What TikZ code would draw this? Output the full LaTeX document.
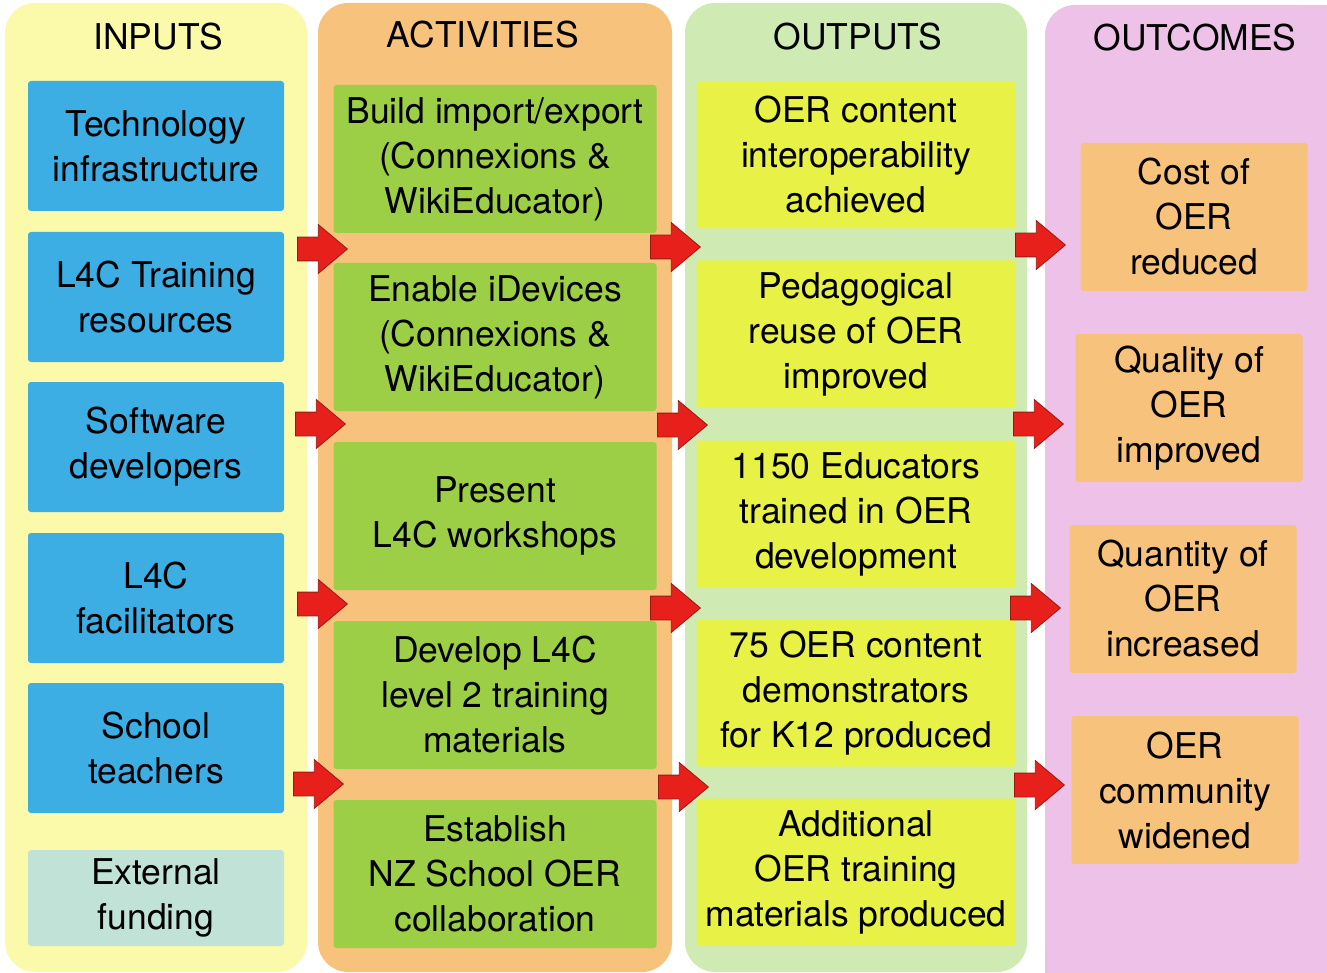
\documentclass[tikz,border=0pt]{standalone}
\usepackage{fontspec}
\setmainfont{TeX Gyre Heros}
\usepackage{tikz}
\usetikzlibrary{shapes.arrows}

\definecolor{inyellow}{RGB}{251,250,171}
\definecolor{actorange}{RGB}{247,194,124}
\definecolor{outgreen}{RGB}{207,235,179}
\definecolor{outcpink}{RGB}{238,193,232}
\definecolor{boxblue}{RGB}{61,174,228}
\definecolor{boxteal}{RGB}{193,227,215}
\definecolor{boxgreen}{RGB}{156,207,69}
\definecolor{boxlime}{RGB}{232,241,69}
\definecolor{arrowred}{RGB}{232,32,28}
\definecolor{arrowedge}{RGB}{150,26,20}

\tikzset{
  colhead/.style={font=\fontsize{35.5}{45}\selectfont, text=black},
  box/.style={rounded corners=3pt, align=center, inner sep=0pt,
    font=\fontsize{35.5}{45}\selectfont, text=black},
  inbox/.style={box, fill=boxblue, minimum width=256pt, minimum height=130pt},
  actbox/.style={box, fill=boxgreen, minimum width=323pt, minimum height=148pt},
  outbox/.style={box, fill=boxlime, minimum width=319pt, minimum height=147pt},
  resbox/.style={box, fill=actorange, minimum width=227pt, minimum height=148pt},
  redarrow/.style={single arrow, fill=arrowred, draw=arrowedge, line width=0.8pt,
    inner xsep=0pt, inner ysep=11.5pt, minimum height=50pt,
    single arrow head extend=12.5pt, single arrow tip angle=80, anchor=tail}
}

\begin{document}
\begin{tikzpicture}[x=1pt,y=-1pt]
    \useasboundingbox (0,0) rectangle (1327,973);
    %columns
    \fill[inyellow, rounded corners=30pt] (5,3) rectangle (307,972);
    \fill[actorange, rounded corners=30pt] (318,3) rectangle (672,972);
    \fill[outgreen, rounded corners=30pt] (685,3) rectangle (1027,972);
    \fill[outcpink, rounded corners=30pt] (1045,5) rectangle (1327,973);
    \fill[outcpink] (1045,500) rectangle (1327,973);
    \fill[outcpink] (1200,5) rectangle (1327,973);
    \node[colhead] (hin) at (158,37) {INPUTS};
    \node[colhead] (hact) at (483,35) {ACTIVITIES};
    \node[colhead] (hout) at (858,37) {OUTPUTS};
    \node[colhead] (hres) at (1195,38) {OUTCOMES};
    %Inputs
    \node[inbox] (in1) at (156,146) {Technology\\infrastructure};
    \node[inbox] (in2) at (156,297) {L4C Training\\resources};
    \node[inbox] (in3) at (156,447) {Software\\developers};
    \node[inbox] (in4) at (156,598) {L4C\\facilitators};
    \node[inbox] (in5) at (156,748) {School\\teachers};
    \node[inbox, fill=boxteal, minimum height=96pt] (in6) at (156,898) {External\\funding};
    %Activities
    \node[actbox] (act1) at (495,159) {Build import/export\\(Connexions \&\\WikiEducator)};
    \node[actbox] (act2) at (495,337) {Enable iDevices\\(Connexions \&\\WikiEducator)};
    \node[actbox] (act3) at (495,516) {Present\\L4C workshops};
    \node[actbox] (act4) at (495,695) {Develop L4C\\level 2 training\\materials};
    \node[actbox] (act5) at (495,874) {Establish\\NZ School OER\\collaboration};
    %Outputs
    \node[outbox] (out1) at (856,155) {OER content\\interoperability\\achieved};
    \node[outbox] (out2) at (856,334) {Pedagogical\\reuse of OER\\improved};
    \node[outbox] (out3) at (856,514) {1150 Educators\\trained in OER\\development};
    \node[outbox] (out4) at (856,693) {75 OER content\\demonstrators\\for K12 produced};
    \node[outbox] (out5) at (856,872) {Additional\\OER training\\materials produced};
    %Outcomes
    \node[resbox] (res1) at (1194,217) {Cost of\\OER\\reduced};
    \node[resbox] (res2) at (1189,408) {Quality of\\OER\\improved};
    \node[resbox] (res3) at (1183,599) {Quantity of\\OER\\increased};
    \node[resbox] (res4) at (1185,790) {OER\\community\\widened};
    %Arrows
    \node[redarrow] (ar11) at (297,249) {};
    \node[redarrow] (ar12) at (295,424) {};
    \node[redarrow] (ar13) at (297,604) {};
    \node[redarrow] (ar14) at (293,784) {};
    \node[redarrow] (ar21) at (650,247) {};
    \node[redarrow] (ar22) at (657,425) {};
    \node[redarrow] (ar23) at (650,608) {};
    \node[redarrow] (ar24) at (658,787) {};
    \node[redarrow] (ar31) at (1015,245) {};
    \node[redarrow] (ar32) at (1013,424) {};
    \node[redarrow] (ar33) at (1010,608) {};
    \node[redarrow] (ar34) at (1014,785) {};
\end{tikzpicture}
\end{document}
